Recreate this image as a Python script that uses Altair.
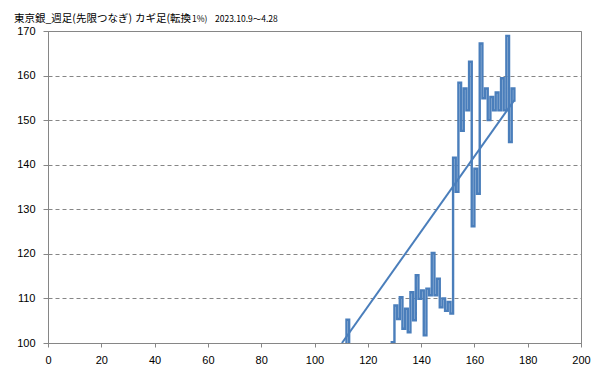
import altair as alt
import pandas as pd

title_parts = ["東京銀_週足(先限つなぎ)", "カギ足(転換", "1%)", "2023.10.9～4.28"]

x_ticks = list(range(0, 201, 20))
y_ticks = list(range(100, 171, 10))

# Kagi reversal index (x) and the price each vertical stroke reaches (y)
kagi_x = [111, 112, 113, 129, 130, 131, 132, 133, 134, 135, 136, 137, 138, 139,
          140, 141, 142, 143, 144, 145, 146, 147, 148, 149, 150, 151, 152, 153,
          154, 155, 156, 157, 158, 159, 160, 161, 162, 163, 164, 165, 166, 167,
          168, 169, 170, 171, 172, 173, 174, 175]
kagi_v = [97.0, 105.2, 98.0, 100.2, 108.4, 105.4, 110.3, 103.2, 107.7, 102.4,
          111.4, 105.1, 115.2, 109.9, 111.8, 101.7, 112.2, 110.7, 120.2, 110.7,
          114.4, 108.0, 110.0, 107.2, 109.2, 106.6, 141.6, 133.9, 158.4, 147.6,
          157.1, 152.2, 163.1, 126.2, 139.1, 133.5, 167.2, 154.9, 157.1, 150.0,
          155.2, 152.2, 156.2, 152.2, 159.4, 152.2, 168.9, 145.1, 157.1, 154.1]

# straight trend line
trend_x = [110.3, 175.0]
trend_v = [100.0, 154.5]

# build the kagi step path: vertical at each x, horizontal to the next x
pts = [(kagi_x[0], kagi_v[0])]
for i in range(1, len(kagi_x)):
    pts.append((kagi_x[i], kagi_v[i - 1]))
    pts.append((kagi_x[i], kagi_v[i]))
kagi_df = pd.DataFrame({"x": [p[0] for p in pts], "y": [p[1] for p in pts],
                        "i": list(range(len(pts)))})
trend_df = pd.DataFrame({"x": trend_x, "y": trend_v, "i": [0, 1]})

blue = "#4A7EBB"
gray = "#868686"

xscale = alt.Scale(domain=[0, 200], nice=False, zero=False)
yscale = alt.Scale(domain=[100, 170], nice=False, zero=False)

xaxis = alt.Axis(values=x_ticks, grid=False, tickSize=4, labelPadding=7,
                 labelFlush=False, labelOverlap=False, title=None, format="d")
yaxis = alt.Axis(values=y_ticks, grid=True, gridDash=[4, 3], gridColor=gray,
                 tickSize=5, labelPadding=8, title=None, format="d")

kagi = alt.Chart(kagi_df).mark_line(
    clip=True, color=blue, strokeWidth=2.4, strokeJoin="miter", strokeCap="butt"
).encode(
    x=alt.X("x:Q", scale=xscale, axis=xaxis),
    y=alt.Y("y:Q", scale=yscale, axis=yaxis),
    order=alt.Order("i:Q"),
)

trend = alt.Chart(trend_df).mark_line(
    clip=True, color=blue, strokeWidth=2
).encode(
    x=alt.X("x:Q", scale=xscale),
    y=alt.Y("y:Q", scale=yscale),
    order=alt.Order("i:Q"),
)


def title_piece(text, xpos, size):
    return alt.Chart(pd.DataFrame({"t": [text]})).mark_text(
        align="left", baseline="alphabetic", font="Noto Sans CJK JP",
        fontSize=size, color="#000000", clip=False,
    ).encode(x=alt.value(xpos), y=alt.value(-9), text="t:N")


titles = [
    title_piece(title_parts[0], -34, 10.5),
    title_piece(title_parts[1], 87, 10.5),
    title_piece(title_parts[2], 144, 8.5),
    title_piece(title_parts[3], 167, 8.5),
]

chart = alt.layer(kagi, trend, *titles).properties(
    width=533,
    height=312,
    autosize=alt.AutoSizeParams(type="none"),
    padding={"left": 40, "top": 23, "right": 10, "bottom": 28},
).configure_view(
    stroke=gray, strokeWidth=1
).configure_axis(
    domainColor=gray, tickColor=gray, labelColor="#000000",
    labelFont="Liberation Sans", labelFontSize=11,
)

chart.save("out.html", embed_options={"renderer": "svg", "actions": False})
